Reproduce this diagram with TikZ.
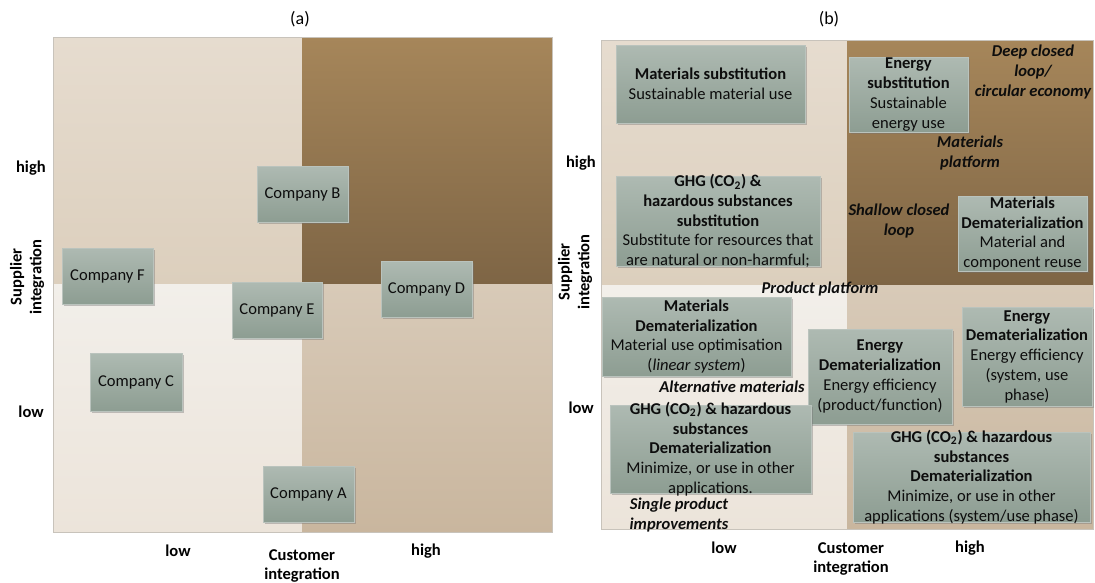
\documentclass[tikz,border=0pt]{standalone}
\usepackage{fontspec}
\setmainfont{Carlito}
\usetikzlibrary{shadows}
\definecolor{tlA}{HTML}{E6DCCF}\definecolor{tlB}{HTML}{DCCFBD}
\definecolor{trA}{HTML}{A6865A}\definecolor{trB}{HTML}{7E6545}
\definecolor{blA}{HTML}{F2EFEA}\definecolor{blB}{HTML}{ECE4DA}
\definecolor{brA}{HTML}{D8CAB8}\definecolor{brB}{HTML}{C9B69E}
\definecolor{bxA}{HTML}{AEBAB2}\definecolor{bxB}{HTML}{8D9D92}
\definecolor{bxE}{HTML}{BAC3BD}
\definecolor{frm}{HTML}{C8C3BB}
\tikzset{
  cbox/.style={rectangle, inner sep=0pt, draw=bxE, line width=0.6pt,
    top color=bxA, bottom color=bxB,
    drop shadow={shadow xshift=1.3pt, shadow yshift=-1.3pt, opacity=0.4, fill=black!55}},
  btxt/.style={align=center, font=\fontsize{12.4}{14.8}\selectfont, text=black!95, inner sep=0pt},
  axlbl/.style={align=center, font=\fontsize{12.4}{14.8}\selectfont\bfseries, inner sep=0pt},
  itlbl/.style={align=center, font=\fontsize{12.4}{14.8}\selectfont\bfseries\itshape, text=black!95, inner sep=0pt},
  ttl/.style={font=\fontsize{13.5}{15}\selectfont, inner sep=0pt}
}
\newcommand\qbox[5]{\node[cbox,minimum width={(#4-#2)*0.75pt},minimum height={(#5-#3)*0.75pt}] (#1) at ({(#2+#4)/2},{(#3+#5)/2}) {};}
\begin{document}
\begin{tikzpicture}[x=0.75pt,y=-0.75pt]
\useasboundingbox (0,0) rectangle (1095,582);
% ---------------- panel (a)
\shade[top color=tlA,bottom color=tlB] (53,37) rectangle (302,284);
\shade[top color=trA,bottom color=trB] (302,37) rectangle (552,284);
\shade[top color=blA,bottom color=blB] (53,284) rectangle (302,532);
\shade[top color=brA,bottom color=brB] (302,284) rectangle (552,532);
\draw[frm,line width=0.6pt] (53,37) rectangle (552,532);
\node[ttl] (ta) at (300,19) {(a)};
\node[axlbl,anchor=east] (ahi) at (46,168) {high};
\node[axlbl,anchor=east] (alo) at (44,412) {low};
\node[axlbl,rotate=90] (asup) at (27,277) {Supplier\\integration};
\node[axlbl] (blo) at (178,551) {low};
\node[axlbl] (bci) at (302,566) {Customer\\integration};
\node[axlbl] (bhi) at (426,551) {high};

\qbox{cB}{257}{166}{348}{222}
\qbox{cF}{62}{248}{153}{304}
\qbox{cE}{232}{282}{322}{338}
\qbox{cD}{381}{261}{472}{317}
\qbox{cC}{90}{353}{182}{411}
\qbox{cA}{263}{466}{354}{522}
\node[btxt] (cBt) at (cB) {Company B};
\node[btxt] (cFt) at (cF) {Company F};
\node[btxt] (cEt) at (cE) {Company E};
\node[btxt] (cDt) at (cD) {Company D};
\node[btxt] (cCt) at (cC) {Company C};
\node[btxt] (cAt) at (cA) {Company A};

% ---------------- panel (b)
\shade[top color=tlA,bottom color=tlB] (601,40) rectangle (847,285);
\shade[top color=trA,bottom color=trB] (847,40) rectangle (1093,285);
\shade[top color=blA,bottom color=blB] (601,285) rectangle (847,529);
\shade[top color=brA,bottom color=brB] (847,285) rectangle (1093,529);
\draw[frm,line width=0.6pt] (601,40) rectangle (1093,529);
\node[ttl] (tb) at (829,19) {(b)};
\node[axlbl,anchor=east] (chi) at (596,163) {high};
\node[axlbl,anchor=east] (clo) at (594,408) {low};
\node[axlbl,rotate=90] (csup) at (575,272) {Supplier\\integration};
\node[axlbl] (dlo) at (724,548) {low};
\node[axlbl] (dci) at (851,559) {Customer\\integration};
\node[axlbl] (dhi) at (970,548) {high};

\qbox{m1}{616}{45}{805}{123}
\qbox{m2}{616}{176}{820}{266}
\qbox{m3}{849}{57}{968}{132}
\qbox{m4}{958}{196}{1087}{271}
\qbox{m5}{602}{297}{791}{376}
\qbox{m7}{962}{307}{1092}{406}
\qbox{m6}{808}{329}{952}{424}
\qbox{m8}{610}{405}{811}{493}
\qbox{m9}{853}{432}{1090}{522}

\node[btxt] (m1t) at (m1) {\textbf{Materials substitution}\\Sustainable material use};
\node[btxt] (m2t) at (m2) {\textbf{GHG (CO\textsubscript{2}) \&}\\\textbf{hazardous substances}\\\textbf{substitution}\\Substitute for resources that\\are natural or non-harmful;};
\node[btxt] (m3t) at (m3) {\textbf{Energy}\\\textbf{substitution}\\Sustainable\\energy use};
\node[btxt] (m4t) at (m4) {\textbf{Materials}\\\textbf{Dematerialization}\\Material and\\component reuse};
\node[btxt] (m5t) at (m5) {\textbf{Materials}\\\textbf{Dematerialization}\\Material use optimisation\\(\textit{linear system})};
\node[btxt] (m6t) at (m6) {\textbf{Energy}\\\textbf{Dematerialization}\\Energy efficiency\\(product/function)};
\node[btxt] (m7t) at (m7) {\textbf{Energy}\\\textbf{Dematerialization}\\Energy efficiency\\(system, use\\phase)};
\node[btxt] (m8t) at (m8) {\textbf{GHG (CO\textsubscript{2}) \& hazardous}\\\textbf{substances}\\\textbf{Dematerialization}\\Minimize, or use in other\\applications.};
\node[btxt] (m9t) at (m9) {\textbf{GHG (CO\textsubscript{2}) \& hazardous}\\\textbf{substances}\\\textbf{Dematerialization}\\Minimize, or use in other\\applications (system/use phase)};

\node[itlbl] (l1) at (1033,72) {Deep closed\\loop/\\circular economy};
\node[itlbl] (l2) at (970,153) {Materials\\platform};
\node[itlbl] (l3) at (899,221) {Shallow closed\\loop};
\node[itlbl] (l4) at (820,289) {Product platform};
\node[itlbl] (l5) at (732,387) {Alternative materials};
\node[itlbl] (l6) at (679,515) {Single product\\improvements};
\end{tikzpicture}
\end{document}
